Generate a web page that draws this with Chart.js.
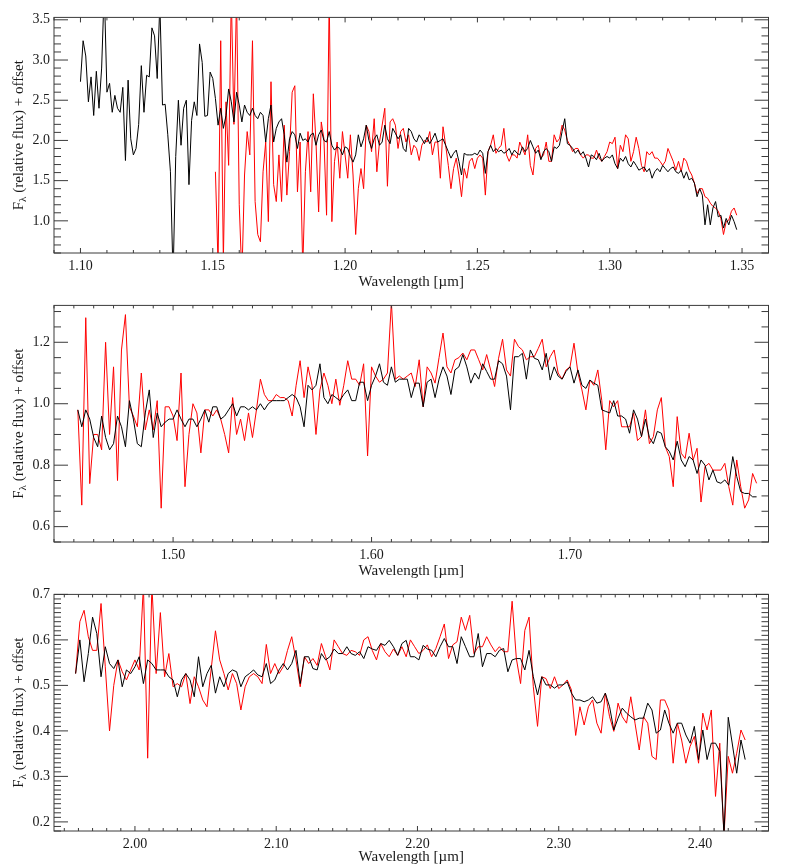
<!DOCTYPE html>
<html lang="en">
<head>
<meta charset="UTF-8">
<script src="https://cdn.jsdelivr.net/npm/chart.js"></script>
<title>Spectra</title>
<style>
  body { margin: 0; background: #fff; width: 786px; height: 866px; overflow: hidden; position: relative; }
  canvas { position: absolute; left: 0; }
</style>
</head>
<body>
<canvas id="p1" width="786" height="288" style="top:5px"></canvas>
<canvas id="p2" width="786" height="289" style="top:293px"></canvas>
<canvas id="p3" width="786" height="289" style="top:582px"></canvas>
<script>
// ---- panel 1 : J band ----
const wave1 = [
  1.100,1.101,1.102,1.103,1.104,1.105,1.106,1.107,1.108,1.109,
  1.110,1.111,1.112,1.113,1.114,1.115,1.116,1.117,1.118,1.119,
  1.120,1.121,1.122,1.123,1.124,1.125,1.126,1.127,1.128,1.129,
  1.130,1.131,1.132,1.133,1.134,1.135,1.136,1.137,1.138,1.139,
  1.140,1.141,1.142,1.143,1.144,1.145,1.146,1.147,1.148,1.149,
  1.150,1.151,1.152,1.153,1.154,1.155,1.156,1.157,1.158,1.159,
  1.160,1.161,1.162,1.163,1.164,1.165,1.166,1.167,1.168,1.169,
  1.170,1.171,1.172,1.173,1.174,1.175,1.176,1.177,1.178,1.179,
  1.180,1.181,1.182,1.183,1.184,1.185,1.186,1.187,1.188,1.189,
  1.190,1.191,1.192,1.193,1.194,1.195,1.196,1.197,1.198,1.199,
  1.200,1.201,1.202,1.203,1.204,1.205,1.206,1.207,1.208,1.209,
  1.210,1.211,1.212,1.213,1.214,1.215,1.216,1.217,1.218,1.219,
  1.220,1.221,1.222,1.223,1.224,1.225,1.226,1.227,1.228,1.229,
  1.230,1.231,1.232,1.233,1.234,1.235,1.236,1.237,1.238,1.239,
  1.240,1.241,1.242,1.243,1.244,1.245,1.246,1.247,1.248,1.249,
  1.250,1.251,1.252,1.253,1.254,1.255,1.256,1.257,1.258,1.259,
  1.260,1.261,1.262,1.263,1.264,1.265,1.266,1.267,1.268,1.269,
  1.270,1.271,1.272,1.273,1.274,1.275,1.276,1.277,1.278,1.279,
  1.280,1.281,1.282,1.283,1.284,1.285,1.286,1.287,1.288,1.289,
  1.290,1.291,1.292,1.293,1.294,1.295,1.296,1.297,1.298,1.299,
  1.300,1.301,1.302,1.303,1.304,1.305,1.306,1.307,1.308,1.309,
  1.310,1.311,1.312,1.313,1.314,1.315,1.316,1.317,1.318,1.319,
  1.320,1.321,1.322,1.323,1.324,1.325,1.326,1.327,1.328,1.329,
  1.330,1.331,1.332,1.333,1.334,1.335,1.336,1.337,1.338,1.339,
  1.340,1.341,1.342,1.343,1.344,1.345,1.346,1.347,1.348
];
const black1 = [
  2.73,3.24,3.05,2.48,2.79,2.31,2.86,2.40,2.90,3.90,
  2.60,2.71,2.35,2.56,2.40,2.35,2.66,1.75,2.75,2.02,
  1.82,1.90,2.20,2.93,2.35,2.81,2.79,3.40,3.30,2.77,
  3.70,2.44,2.45,2.07,1.61,0.30,1.80,2.50,1.94,2.40,
  2.50,1.45,2.25,2.48,2.31,3.20,2.97,2.30,2.31,2.85,
  2.77,2.52,2.19,2.40,2.15,2.31,2.64,2.48,2.23,2.60,
  2.44,2.23,2.44,2.35,2.31,2.40,2.31,2.27,2.35,2.31,
  1.98,2.27,2.44,1.98,2.15,2.23,2.27,2.07,1.73,2.02,
  2.11,2.07,1.90,2.09,2.00,2.02,1.98,2.07,2.09,1.94,
  2.07,2.13,2.00,1.98,2.11,1.94,1.88,1.92,1.90,1.82,
  1.92,1.90,1.80,1.73,1.82,2.07,1.92,2.02,2.19,2.00,
  1.90,2.02,2.07,1.94,1.98,2.19,2.02,1.96,2.15,2.09,
  2.02,2.07,1.90,1.86,2.15,2.11,2.02,1.98,2.07,2.02,
  1.96,2.04,1.96,2.02,2.09,1.98,2.00,2.02,1.94,1.86,
  1.78,1.84,1.88,1.74,1.57,1.84,1.82,1.82,1.82,1.84,
  1.82,1.88,1.84,1.59,1.86,1.94,1.86,1.90,1.86,1.88,
  1.84,1.86,1.90,1.82,1.88,1.84,1.82,1.92,1.86,1.90,
  2.00,1.92,1.84,1.88,1.76,1.86,1.90,1.86,1.74,1.92,
  1.90,1.94,2.11,2.27,1.96,1.94,1.90,1.84,1.88,1.82,
  1.86,1.78,1.67,1.82,1.80,1.76,1.84,1.74,1.78,1.80,
  1.78,1.82,1.71,1.65,1.78,1.74,1.80,1.71,1.67,1.74,
  1.69,1.63,1.65,1.67,1.61,1.65,1.53,1.61,1.65,1.61,
  1.69,1.65,1.61,1.65,1.67,1.61,1.59,1.63,1.53,1.61,
  1.51,1.53,1.47,1.30,1.40,1.32,0.95,1.20,0.95,1.16,
  1.24,1.05,1.07,0.91,1.03,0.95,1.07,0.99,0.89
];
// red spectrum starts at 1.151 um and ends with the black one
const red1 = [
  1.61,0.45,3.24,0.50,2.48,1.69,3.80,2.20,3.80,1.20,
  0.30,1.57,2.11,1.82,3.24,1.24,0.83,0.74,1.61,1.98,
  0.99,2.73,1.45,1.24,1.82,1.24,2.19,1.32,1.86,2.60,
  2.68,1.36,1.98,0.40,1.61,2.11,1.36,2.58,1.98,1.11,
  2.23,2.02,1.07,3.80,0.99,1.74,1.98,1.53,2.11,1.82,
  1.53,2.07,1.57,0.83,1.40,1.65,1.40,2.19,2.11,1.86,
  2.27,1.61,1.98,2.19,2.40,1.43,2.23,2.27,2.19,1.90,
  2.11,2.15,1.98,2.07,1.82,1.94,
  1.90,1.75,1.94,2.00,1.98,2.11,1.82,1.98,1.98,1.53,
  2.17,1.94,1.69,1.40,1.65,1.78,1.57,1.30,1.65,1.53,
  1.74,1.78,1.65,1.78,1.82,1.78,1.32,1.86,1.94,2.07,
  1.84,1.90,1.94,2.15,1.82,1.74,1.82,1.82,1.78,1.98,
  1.90,1.82,2.07,1.69,1.57,1.90,1.94,1.78,1.82,1.98,
  1.74,1.74,2.07,1.98,2.02,2.19,2.13,2.00,1.94,1.86,
  1.90,1.90,1.82,1.78,1.82,1.82,1.78,1.78,1.88,1.78,
  1.74,1.80,1.86,1.98,1.96,2.04,1.65,1.94,1.86,2.07,
  2.02,1.74,1.86,2.04,1.90,1.69,1.61,1.86,1.82,1.86,
  1.78,1.78,1.74,1.69,1.74,1.90,1.82,1.74,1.63,1.74,
  1.61,1.78,1.74,1.63,1.57,1.47,1.34,1.40,1.40,1.30,
  1.28,1.22,1.18,1.16,1.12,1.03,0.83,0.99,1.01,1.12,
  1.16,1.07
];
const xTicks1 = [1.10, 1.15, 1.20, 1.25, 1.30, 1.35];
const yTicks1 = [1.0, 1.5, 2.0, 2.5, 3.0, 3.5];

// ---- panel 2 : H band ----
const wave2 = [
  1.452,1.454,1.456,1.458,1.460,1.462,1.464,1.466,1.468,1.470,
  1.472,1.474,1.476,1.478,1.480,1.482,1.484,1.486,1.488,1.490,
  1.492,1.494,1.496,1.498,1.500,1.502,1.504,1.506,1.508,1.510,
  1.512,1.514,1.516,1.518,1.520,1.522,1.524,1.526,1.528,1.530,
  1.532,1.534,1.536,1.538,1.540,1.542,1.544,1.546,1.548,1.550,
  1.552,1.554,1.556,1.558,1.560,1.562,1.564,1.566,1.568,1.570,
  1.572,1.574,1.576,1.578,1.580,1.582,1.584,1.586,1.588,1.590,
  1.592,1.594,1.596,1.598,1.600,1.602,1.604,1.606,1.608,1.610,
  1.612,1.614,1.616,1.618,1.620,1.622,1.624,1.626,1.628,1.630,
  1.632,1.634,1.636,1.638,1.640,1.642,1.644,1.646,1.648,1.650,
  1.652,1.654,1.656,1.658,1.660,1.662,1.664,1.666,1.668,1.670,
  1.672,1.674,1.676,1.678,1.680,1.682,1.684,1.686,1.688,1.690,
  1.692,1.694,1.696,1.698,1.700,1.702,1.704,1.706,1.708,1.710,
  1.712,1.714,1.716,1.718,1.720,1.722,1.724,1.726,1.728,1.730,
  1.732,1.734,1.736,1.738,1.740,1.742,1.744,1.746,1.748,1.750,
  1.752,1.754,1.756,1.758,1.760,1.762,1.764,1.766,1.768,1.770,
  1.772,1.774,1.776,1.778,1.780,1.782,1.784,1.786,1.788,1.790,
  1.792,1.794
];
const black2 = [
  0.98,0.925,0.98,0.95,0.89,0.86,0.96,0.89,0.85,0.87,
  0.96,0.925,0.86,1.01,0.95,0.87,0.86,0.97,1.045,0.89,
  0.97,0.925,0.94,0.95,0.95,0.98,0.95,0.925,0.95,0.95,
  0.925,0.95,0.98,0.94,0.99,0.99,0.95,0.96,0.98,1.00,
  0.96,0.99,0.99,0.98,0.99,0.98,1.00,0.98,1.00,1.01,
  1.01,1.01,1.01,1.02,1.03,1.02,0.99,0.925,1.06,1.045,
  1.06,1.13,1.02,1.00,1.03,1.02,1.01,1.03,1.045,1.01,
  1.01,1.07,1.07,1.01,1.06,1.09,1.13,1.07,1.06,1.12,
  1.07,1.08,1.08,1.08,1.02,1.067,1.067,0.99,1.07,1.08,
  1.02,1.08,1.12,1.09,1.03,1.11,1.12,1.16,1.12,1.067,
  1.10,1.08,1.13,1.105,1.08,1.08,1.14,1.13,1.09,0.98,
  1.153,1.153,1.164,1.08,1.175,1.148,1.143,1.11,1.164,1.077,
  1.12,1.09,1.08,1.105,1.12,1.067,1.11,1.06,1.05,1.077,
  1.067,1.06,0.98,0.975,0.97,1.01,0.96,0.96,0.95,0.904,
  0.98,0.95,0.893,0.95,0.89,0.87,0.91,0.904,0.86,0.845,
  0.817,0.878,0.817,0.795,0.828,0.817,0.773,0.817,0.80,0.752,
  0.784,0.746,0.741,0.752,0.735,0.828,0.763,0.714,0.708,0.708,
  0.697,0.697
];
const red2 = [
  0.98,0.67,1.28,0.74,0.90,0.90,0.85,1.20,0.90,1.12,
  0.75,1.175,1.29,0.99,0.96,0.925,1.10,0.915,0.98,0.915,
  1.01,0.66,0.99,0.99,0.96,0.88,1.10,0.73,0.90,1.00,
  0.97,0.84,0.98,0.98,0.96,0.98,0.95,0.90,0.84,1.02,
  0.90,0.95,0.88,0.97,0.89,0.98,1.08,1.03,1.01,1.01,
  1.03,1.02,1.02,1.01,0.96,1.06,1.14,1.02,1.12,1.06,
  0.90,1.045,1.10,1.06,1.00,1.08,0.995,1.06,1.14,1.08,
  1.08,1.06,1.13,0.83,1.12,1.09,1.07,1.08,1.10,1.33,
  1.08,1.09,1.08,1.09,1.10,1.056,1.143,0.99,1.12,1.10,
  1.067,1.15,1.23,1.12,1.10,1.143,1.15,1.165,1.143,1.175,
  1.175,1.143,1.11,1.16,1.11,1.056,1.148,1.21,1.11,1.09,
  1.21,1.186,1.175,1.143,1.153,1.153,1.18,1.21,1.12,1.153,
  1.175,1.10,1.08,1.11,1.12,1.197,1.10,1.045,0.98,1.077,
  1.06,1.11,1.01,0.85,1.01,0.99,1.01,0.925,0.925,0.925,
  0.97,0.88,0.893,0.98,0.87,0.893,0.98,1.02,0.86,0.828,
  0.73,0.958,0.839,0.822,0.904,0.817,0.855,0.68,0.795,0.806,
  0.784,0.784,0.784,0.806,0.73,0.67,0.817,0.73,0.66,0.687,
  0.773,0.741
];
const xTicks2 = [1.50, 1.60, 1.70];
const yTicks2 = [0.6, 0.8, 1.0, 1.2];

// ---- panel 3 : K band ----
const wave3 = [
  1.958,1.961,1.964,1.967,1.970,1.973,1.976,1.979,1.982,1.985,
  1.988,1.991,1.994,1.997,2.000,2.003,2.006,2.009,2.012,2.015,
  2.018,2.021,2.024,2.027,2.030,2.033,2.036,2.039,2.042,2.045,
  2.048,2.051,2.054,2.057,2.060,2.063,2.066,2.069,2.072,2.075,
  2.078,2.081,2.084,2.087,2.090,2.093,2.096,2.099,2.102,2.105,
  2.108,2.111,2.114,2.117,2.120,2.123,2.126,2.129,2.132,2.135,
  2.138,2.141,2.144,2.147,2.150,2.153,2.156,2.159,2.162,2.165,
  2.168,2.171,2.174,2.177,2.180,2.183,2.186,2.189,2.192,2.195,
  2.198,2.201,2.204,2.207,2.210,2.213,2.216,2.219,2.222,2.225,
  2.228,2.231,2.234,2.237,2.240,2.243,2.246,2.249,2.252,2.255,
  2.258,2.261,2.264,2.267,2.270,2.273,2.276,2.279,2.282,2.285,
  2.288,2.291,2.294,2.297,2.300,2.303,2.306,2.309,2.312,2.315,
  2.318,2.321,2.324,2.327,2.330,2.333,2.336,2.339,2.342,2.345,
  2.348,2.351,2.354,2.357,2.360,2.363,2.366,2.369,2.372,2.375,
  2.378,2.381,2.384,2.387,2.390,2.393,2.396,2.399,2.402,2.405,
  2.408,2.411,2.414,2.417,2.420,2.423,2.426,2.429,2.432
];
const black3 = [
  0.526,0.60,0.508,0.57,0.65,0.614,0.519,0.585,0.548,0.537,
  0.556,0.497,0.534,0.526,0.541,0.563,0.504,0.556,0.548,0.534,
  0.534,0.534,0.519,0.512,0.475,0.512,0.526,0.512,0.475,0.563,
  0.497,0.526,0.544,0.483,0.519,0.497,0.526,0.534,0.53,0.497,
  0.519,0.526,0.534,0.523,0.519,0.548,0.504,0.512,0.534,0.548,
  0.534,0.548,0.577,0.504,0.563,0.563,0.537,0.534,0.57,0.556,
  0.563,0.58,0.57,0.57,0.585,0.57,0.566,0.574,0.559,0.585,
  0.58,0.577,0.592,0.588,0.599,0.585,0.566,0.592,0.599,0.563,
  0.563,0.556,0.588,0.58,0.577,0.563,0.585,0.603,0.585,0.585,
  0.548,0.607,0.585,0.563,0.563,0.614,0.541,0.57,0.57,0.563,
  0.577,0.581,0.53,0.556,0.559,0.559,0.534,0.577,0.519,0.479,
  0.519,0.501,0.501,0.494,0.501,0.501,0.508,0.483,0.468,0.468,
  0.464,0.468,0.475,0.461,0.464,0.483,0.453,0.402,0.428,0.45,
  0.439,0.431,0.424,0.428,0.428,0.461,0.446,0.395,0.402,0.446,
  0.417,0.395,0.417,0.417,0.391,0.373,0.41,0.337,0.402,0.337,
  0.373,0.373,0.355,0.17,0.43,0.369,0.307,0.38,0.337
];
const red3 = [
  0.526,0.64,0.665,0.607,0.577,0.577,0.68,0.541,0.40,0.50,
  0.556,0.53,0.512,0.534,0.556,0.534,0.72,0.34,0.72,0.526,
  0.66,0.519,0.57,0.497,0.504,0.497,0.526,0.46,0.519,0.497,
  0.468,0.453,0.537,0.62,0.556,0.526,0.49,0.526,0.504,0.446,
  0.497,0.519,0.526,0.519,0.504,0.59,0.526,0.548,0.526,0.541,
  0.577,0.607,0.556,0.497,0.563,0.548,0.559,0.544,0.592,0.563,
  0.534,0.60,0.585,0.57,0.566,0.577,0.574,0.566,0.60,0.607,
  0.577,0.556,0.592,0.574,0.563,0.58,0.566,0.585,0.563,0.60,
  0.585,0.57,0.577,0.589,0.563,0.581,0.607,0.635,0.559,0.589,
  0.596,0.65,0.621,0.654,0.57,0.585,0.585,0.607,0.589,0.574,
  0.585,0.574,0.574,0.685,0.559,0.504,0.621,0.65,0.497,0.41,
  0.519,0.515,0.493,0.519,0.493,0.501,0.512,0.49,0.39,0.453,
  0.413,0.453,0.468,0.417,0.395,0.483,0.431,0.399,0.461,0.431,
  0.417,0.475,0.417,0.358,0.431,0.417,0.344,0.337,0.468,0.468,
  0.446,0.329,0.417,0.38,0.329,0.366,0.388,0.329,0.439,0.402,
  0.446,0.256,0.373,0.17,0.344,0.307,0.351,0.402,0.38
];
const xTicks3 = [2.00, 2.10, 2.20, 2.30, 2.40];
const yTicks3 = [0.2, 0.3, 0.4, 0.5, 0.6, 0.7];

const FONT = "'Liberation Serif', 'Times New Roman', serif";
const INK = '#1a1a1a';

// IDL-like frame: box plus inward ticks on all four sides, and the y title with subscript
const frame = {
  id: 'frame',
  afterDatasetsDraw(chart, args, o) {
    const ctx = chart.ctx, a = chart.chartArea, x = chart.scales.x, y = chart.scales.y;
    ctx.save();
    ctx.strokeStyle = '#3a3a3a';
    ctx.lineWidth = 1;
    ctx.strokeRect(a.left, a.top, a.right - a.left, a.bottom - a.top);
    ctx.beginPath();
    for (let i = Math.ceil(x.min / o.xMinor - 1e-6); i * o.xMinor <= x.max + 1e-9; i++) {
      const px = x.getPixelForValue(i * o.xMinor);
      const len = i % o.xEvery === 0 ? 5 : 3;
      ctx.moveTo(px, a.bottom); ctx.lineTo(px, a.bottom - len);
      ctx.moveTo(px, a.top); ctx.lineTo(px, a.top + len);
    }
    for (let i = Math.ceil(y.min / o.yMinor - 1e-6); i * o.yMinor <= y.max + 1e-9; i++) {
      const py = y.getPixelForValue(i * o.yMinor);
      const len = i % o.yEvery === 0 ? 14 : 7;
      ctx.moveTo(a.left, py); ctx.lineTo(a.left + len, py);
      ctx.moveTo(a.right, py); ctx.lineTo(a.right - len, py);
    }
    ctx.stroke();

    // F_lambda (relative flux) + offset
    const big = '15px ' + FONT, small = '11px ' + FONT;
    const t1 = 'F', t2 = 'λ', t3 = ' (relative flux) + offset';
    ctx.font = big;
    const w1 = ctx.measureText(t1).width, w3 = ctx.measureText(t3).width;
    ctx.font = small;
    const w2 = ctx.measureText(t2).width;
    ctx.translate(19, (a.top + a.bottom) / 2);
    ctx.rotate(-Math.PI / 2);
    ctx.fillStyle = INK;
    ctx.textBaseline = 'middle';
    let x0 = -(w1 + w2 + w3) / 2;
    ctx.font = big; ctx.fillText(t1, x0, 0);
    ctx.font = small; ctx.fillText(t2, x0 + w1, 4);
    ctx.font = big; ctx.fillText(t3, x0 + w1 + w2, 0);
    ctx.restore();
  }
};

function pairs(wave, vals) {
  // a spectrum that starts later is aligned to the last wavelengths
  const w = wave.slice(wave.length - vals.length);
  return vals.map((v, i) => ({ x: w[i], y: v }));
}

function makePanel(id, wave, black, red, cfg) {
  return new Chart(id, {
    type: 'line',
    data: {
      datasets: [
        { data: pairs(wave, black), borderColor: '#000', borderWidth: 1, pointRadius: 0, tension: 0 },
        { data: pairs(wave, red), borderColor: '#ff0000', borderWidth: 1, pointRadius: 0, tension: 0 }
      ]
    },
    options: {
      responsive: false,
      animation: false,
      devicePixelRatio: 1,
      layout: { padding: { top: 12, right: 17.5, left: 0, bottom: 0 } },
      plugins: {
        legend: { display: false },
        tooltip: { enabled: false },
        frame: cfg.ticks
      },
      scales: {
        x: {
          type: 'linear', min: cfg.xMin, max: cfg.xMax,
          grid: { display: false, drawTicks: false },
          border: { display: false },
          afterBuildTicks: s => { s.ticks = cfg.xTicks.map(v => ({ value: v })); },
          afterFit: s => { s.height = 40; },
          ticks: { autoSkip: false, maxRotation: 0, padding: 5, color: INK,
                   font: { family: FONT, size: 14 }, callback: v => v.toFixed(2) },
          title: { display: true, text: 'Wavelength [µm]', color: INK,
                   font: { family: FONT, size: 15, lineHeight: 1 }, padding: { top: 0, bottom: cfg.titlePad } }
        },
        y: {
          min: cfg.yMin, max: cfg.yMax,
          grid: { display: false, drawTicks: false },
          border: { display: false },
          afterBuildTicks: s => { s.ticks = cfg.yTicks.map(v => ({ value: v })); },
          afterFit: s => { s.width = 54; },
          ticks: { autoSkip: false, padding: 4, color: INK,
                   font: { family: FONT, size: 14 }, callback: v => v.toFixed(1) }
        }
      }
    },
    plugins: [frame]
  });
}

makePanel('p1', wave1, black1, red1, {
  xMin: 1.09, xMax: 1.36, yMin: 0.6, yMax: 3.53, xTicks: xTicks1, yTicks: yTicks1, titlePad: 3.5,
  ticks: { xMinor: 0.01, xEvery: 5, yMinor: 0.1, yEvery: 5 }
});
makePanel('p2', wave2, black2, red2, {
  xMin: 1.44, xMax: 1.80, yMin: 0.55, yMax: 1.32, xTicks: xTicks2, yTicks: yTicks2, titlePad: 3.5,
  ticks: { xMinor: 0.01, xEvery: 10, yMinor: 0.05, yEvery: 4 }
});
makePanel('p3', wave3, black3, red3, {
  xMin: 1.9427, xMax: 2.4485, yMin: 0.18, yMax: 0.70, xTicks: xTicks3, yTicks: yTicks3, titlePad: 6.5,
  ticks: { xMinor: 0.01, xEvery: 10, yMinor: 0.01, yEvery: 10 }
});
</script>
</body>
</html>
